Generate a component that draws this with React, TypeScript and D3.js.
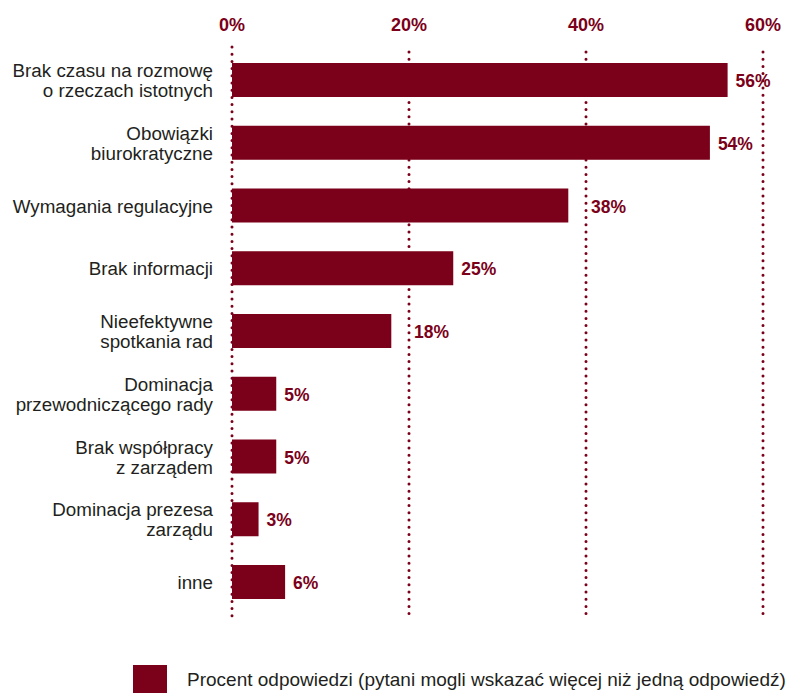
import React from "react";
import * as d3 from "d3";

const categories: string[][] = [
  ["Brak czasu na rozmowę", "o rzeczach istotnych"],
  ["Obowiązki", "biurokratyczne"],
  ["Wymagania regulacyjne"],
  ["Brak informacji"],
  ["Nieefektywne", "spotkania rad"],
  ["Dominacja", "przewodniczącego rady"],
  ["Brak współpracy", "z zarządem"],
  ["Dominacja prezesa", "zarządu"],
  ["inne"],
];
const values: number[] = [56, 54, 38, 25, 18, 5, 5, 3, 6];
const ticks: number[] = [0, 20, 40, 60];
const legendLabel = "Procent odpowiedzi (pytani mogli wskazać więcej niż jedną odpowiedź)";

const RED = "#7b0019";
const FONT = "'Liberation Sans', Arial, Helvetica, sans-serif";

export default function App() {
  const width = 790;
  const height = 693;
  const x = d3.scaleLinear().domain([0, 60]).range([232, 763]);
  const y = d3
    .scalePoint<number>()
    .domain(d3.range(categories.length))
    .range([80, 582]);
  const barH = 34;
  const gridPos = ticks.map((t) => x(t));

  const labelX = (v: number) => {
    let lx = x(v) + 8;
    for (const g of gridPos) {
      if (g >= lx - 3 && g <= lx + 16) lx = g + 5;
    }
    return lx;
  };

  return (
    <svg
      width={width}
      height={height}
      style={{ position: "absolute", left: 0, top: 0, background: "#fff" }}
      fontFamily={FONT}
    >
      {ticks.map((t) => (
        <g key={t}>
          <text
            x={x(t)}
            y={31}
            textAnchor="middle"
            fontSize={18}
            fontWeight="bold"
            fill={RED}
          >
            {t}%
          </text>
          <line
            x1={x(t)}
            x2={x(t)}
            y1={t === 0 ? 47 : 52}
            y2={616}
            stroke={RED}
            strokeWidth={3}
            strokeLinecap="round"
            strokeDasharray="0 7.2"
          />
        </g>
      ))}
      {values.map((v, i) => {
        const cy = y(i)!;
        const lines = categories[i];
        const lh = 20;
        return (
          <g key={i}>
            <rect
              x={x(0)}
              y={cy - barH / 2}
              width={x(v) - x(0)}
              height={barH}
              fill={RED}
            />
            <text
              x={labelX(v)}
              y={cy + 7}
              fontSize={17.5}
              fontWeight="bold"
              fill={RED}
            >
              {v}%
            </text>
            {lines.map((l, j) => (
              <text
                key={j}
                x={213}
                y={cy + 7 + (j - (lines.length - 1) / 2) * lh}
                textAnchor="end"
                fontSize={18.8}
                fill="#231f20"
              >
                {l}
              </text>
            ))}
          </g>
        );
      })}
      <rect x={133} y={665} width={34} height={28} fill={RED} />
      <text x={187} y={686} fontSize={19} fill="#231f20">
        {legendLabel}
      </text>
    </svg>
  );
}
